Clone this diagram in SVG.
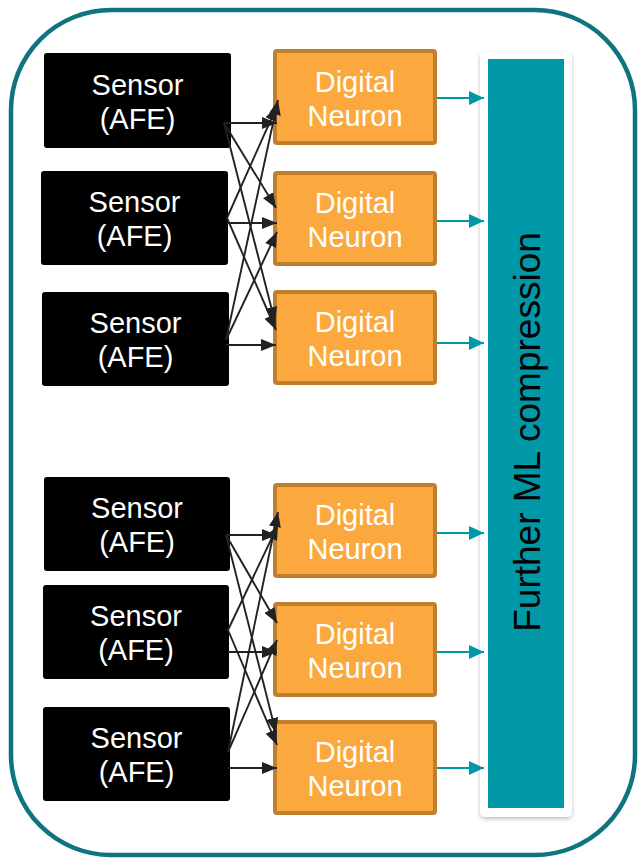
<svg xmlns="http://www.w3.org/2000/svg" width="640" height="858" viewBox="0 0 640 858">
  <style>
    .sensor rect { fill: #000; }
    .sensor text, .neuron text { font-family: "Liberation Sans", Arial, sans-serif; font-size: 29px; fill: #fff; text-anchor: middle; }
    .neuron rect { fill: #FBA83E; stroke: #C07F2E; stroke-width: 4; }
    .wire { stroke: #222; stroke-width: 1.9; fill: none; marker-end: url(#blk); }
    .out { stroke: #0097A7; stroke-width: 2; fill: none; marker-end: url(#teal); }
    .label { font-family: "Liberation Sans", Arial, sans-serif; font-size: 37px; fill: #000; text-anchor: middle; }
  </style>
  <defs>
    <marker id="blk" viewBox="0 0 15 12" refX="15" refY="6" markerWidth="15" markerHeight="12" markerUnits="userSpaceOnUse" orient="auto">
      <path d="M0,0 L15,6 L0,12 Z" fill="#222"/>
    </marker>
    <marker id="teal" viewBox="0 0 15 14" refX="15" refY="7" markerWidth="15" markerHeight="14" markerUnits="userSpaceOnUse" orient="auto">
      <path d="M0,0 L15,7 L0,14 Z" fill="#0097A7"/>
    </marker>
    <filter id="shadow" x="-20%" y="-5%" width="140%" height="110%">
      <feDropShadow dx="0" dy="2" stdDeviation="2" flood-color="#000" flood-opacity="0.25"/>
    </filter>
  </defs>

  <rect width="640" height="858" fill="#fff"/>
  <!-- outer frame -->
  <rect id="frame" x="11" y="10" width="624" height="845" rx="100" ry="100" fill="none" stroke="#0E7480" stroke-width="4.5"/>

  <!-- sensors -->
  <g id="sensor1" class="sensor"><rect x="44" y="53" width="187" height="95" rx="3"/><text x="137.5" y="95">Sensor</text><text x="137.5" y="129">(AFE)</text></g>
  <g id="sensor2" class="sensor"><rect x="41" y="171" width="187" height="94" rx="3"/><text x="134.5" y="212">Sensor</text><text x="134.5" y="246">(AFE)</text></g>
  <g id="sensor3" class="sensor"><rect x="42" y="292" width="187" height="94" rx="3"/><text x="135.5" y="333">Sensor</text><text x="135.5" y="367">(AFE)</text></g>
  <g id="sensor4" class="sensor"><rect x="44" y="477" width="186" height="94" rx="3"/><text x="137" y="518">Sensor</text><text x="137" y="552">(AFE)</text></g>
  <g id="sensor5" class="sensor"><rect x="43" y="585" width="186" height="94" rx="3"/><text x="136" y="626">Sensor</text><text x="136" y="660">(AFE)</text></g>
  <g id="sensor6" class="sensor"><rect x="43" y="707" width="187" height="94" rx="3"/><text x="136.5" y="748">Sensor</text><text x="136.5" y="782">(AFE)</text></g>

  <!-- digital neurons -->
  <g id="neuron1" class="neuron"><rect x="275" y="51" width="160" height="92" rx="2"/><text x="355" y="92">Digital</text><text x="355" y="126">Neuron</text></g>
  <g id="neuron2" class="neuron"><rect x="275" y="173" width="160" height="91" rx="2"/><text x="355" y="213">Digital</text><text x="355" y="247">Neuron</text></g>
  <g id="neuron3" class="neuron"><rect x="275" y="292" width="160" height="91" rx="2"/><text x="355" y="332">Digital</text><text x="355" y="366">Neuron</text></g>
  <g id="neuron4" class="neuron"><rect x="275" y="485" width="160" height="91" rx="2"/><text x="355" y="525">Digital</text><text x="355" y="559">Neuron</text></g>
  <g id="neuron5" class="neuron"><rect x="275" y="604" width="160" height="91" rx="2"/><text x="355" y="644">Digital</text><text x="355" y="678">Neuron</text></g>
  <g id="neuron6" class="neuron"><rect x="275" y="722" width="160" height="91" rx="2"/><text x="355" y="762">Digital</text><text x="355" y="796">Neuron</text></g>

  <!-- compression stage -->
  <g id="compression">
    <rect x="480" y="52" width="92" height="765" rx="5" fill="#fff" filter="url(#shadow)"/>
    <rect x="488" y="59" width="76" height="749" fill="#0097A7"/>
    <text class="label" transform="translate(540 432) rotate(-90)">Further ML compression</text>
  </g>

  <!-- connectors -->
  <g id="connectors">
    <!-- group 1: sensors 1-3 to neurons 1-3 -->
    <path class="wire" d="M224,123 L277,123"/>
    <path class="wire" d="M224,123 L276,208"/>
    <path class="wire" d="M224,123 L275,322"/>
    <path class="wire" d="M227,218 L277,106"/>
    <path class="wire" d="M227,223 L277,223"/>
    <path class="wire" d="M227,218 L276,330"/>
    <path class="wire" d="M226,340 L278,100"/>
    <path class="wire" d="M226,340 L277,232"/>
    <path class="wire" d="M226,345 L276,345"/>
    <!-- group 2: sensors 4-6 to neurons 4-6 -->
    <path class="wire" d="M226,535 L277,535"/>
    <path class="wire" d="M226,535 L277,623"/>
    <path class="wire" d="M226,535 L276,733"/>
    <path class="wire" d="M228,630 L278,525"/>
    <path class="wire" d="M228,652 L277,652"/>
    <path class="wire" d="M228,630 L277,745"/>
    <path class="wire" d="M228,752 L278,512"/>
    <path class="wire" d="M228,752 L277,640"/>
    <path class="wire" d="M228,768 L277,768"/>
    <!-- neurons to compression -->
    <path class="out" d="M437,98 L484,98"/>
    <path class="out" d="M437,221 L484,221"/>
    <path class="out" d="M437,343 L484,343"/>
    <path class="out" d="M437,533 L484,533"/>
    <path class="out" d="M437,652 L484,652"/>
    <path class="out" d="M437,768 L484,768"/>
  </g>
</svg>
